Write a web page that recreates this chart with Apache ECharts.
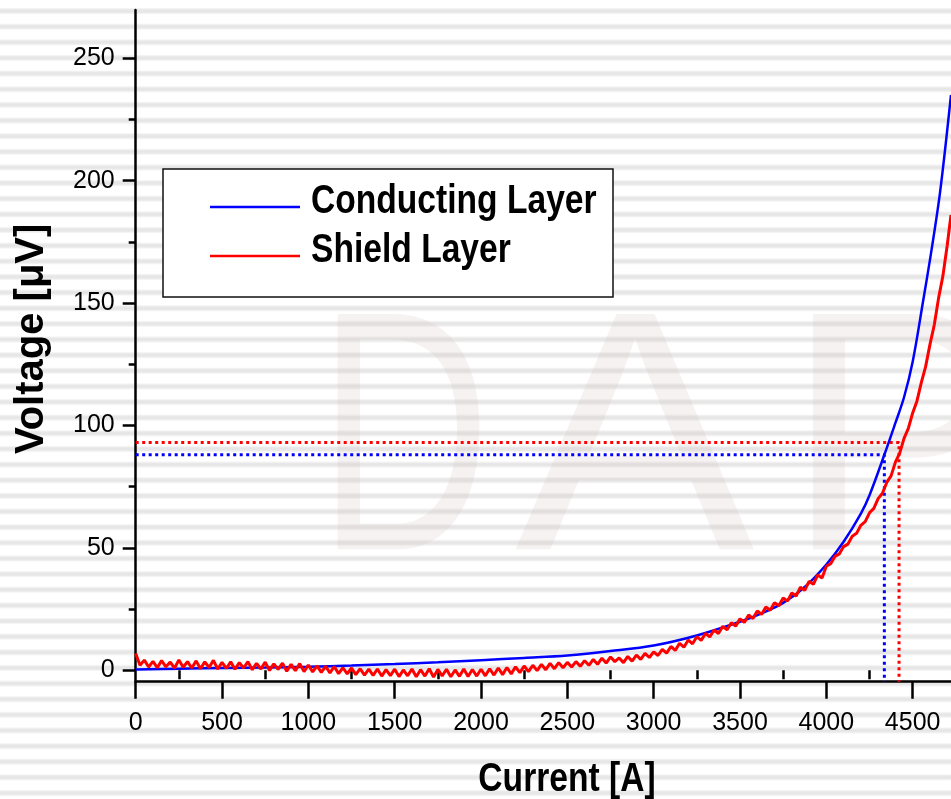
<!DOCTYPE html>
<html><head><meta charset="utf-8">
<script src="https://cdn.jsdelivr.net/npm/echarts@6/dist/echarts.min.js"></script>
<style>
html,body{margin:0;padding:0;width:951px;height:799px;overflow:hidden;}
body{background-color:#fff;background-image:repeating-linear-gradient(to bottom,#fff 0px,#fff 8.5px,#eaeaea 10.5px,#e5e5e5 12px,#eaeaea 13.5px,#fff 15.64px);background-position:0 -1px;}
#chart{width:951px;height:799px;}
</style></head><body><div id="chart"></div>
<script>
const xTicks = [0, 500, 1000, 1500, 2000, 2500, 3000, 3500, 4000, 4500];
const xMinorTicks = [250, 750, 1250, 1750, 2250, 2750, 3250, 3750, 4250];
const yTicks = [0, 50, 100, 150, 200, 250];
const yMinorTicks = [25, 75, 125, 175, 225];
const xRange = [0, 4722];
const yRange = [-4.7, 269.7];

const seriesNames = ['Conducting Layer', 'Shield Layer'];
const xTitle = 'Current [A]';
const yTitle = 'Voltage [\u03bcV]';
const watermark = ['D', 'A', 'P'];

const blueX = [0,250,500,750,1000,1250,1500,1750,2000,2250,2500,2750,3000,3250,3500,3625,3750,3875,4000,4100,4200,4250,4336,4400,4450,4500,4561,4610,4660,4722];
const blueY = [0.3,0.6,0.9,1.1,1.4,1.9,2.5,3.2,4.1,5.0,6.0,7.8,10.1,14.2,19.8,23.2,27.5,34.0,43.2,52.5,64,71.5,88,101,111.5,126,151,172,196,235];

const redX = [0,10,25,50,75,100,125,150,175,200,225,250,275,300,325,350,375,400,425,450,475,
 500,525,550,575,600,625,650,675,700,725,750,775,800,825,850,875,900,925,950,975,
 1000,1025,1050,1075,1100,1125,1150,1175,1200,1225,1250,1275,1300,1325,1350,1375,1400,1425,1450,1475,
 1500,1525,1550,1575,1600,1625,1650,1675,1700,1725,1750,1775,1800,1825,1850,1875,1900,1925,1950,1975,
 2000,2025,2050,2075,2100,2125,2150,2175,2200,2225,2250,2275,2300,2325,2350,2375,2400,2425,2450,2475,
 2500,2525,2550,2575,2600,2625,2650,2675,2700,2725,2750,2775,2800,2825,2850,2875,2900,2925,2950,2975,
 3000,3025,3050,3075,3100,3125,3150,3175,3200,3225,3250,3275,3300,3325,3350,3375,3400,3425,3450,3475,
 3500,3525,3550,3575,3600,3625,3650,3675,3700,3725,3750,3775,3800,3825,3850,3875,3900,3925,3950,3975,
 4000,4025,4050,4075,4100,4125,4150,4175,4200,4225,4250,4275,4300,4325,4350,4375,4400,4425,4450,4475,
 4500,4525,4550,4575,4600,4625,4650,4675,4700,4722];
const redY = [6.8,4.9,2.0,4.1,1.3,3.6,1.0,3.9,1.4,3.3,0.8,4.2,1.2,3.5,0.9,3.8,0.6,3.4,1.1,4.0,0.5,
 3.2,0.7,3.4,0.4,3.1,0.9,3.5,0.2,2.8,0.5,3.3,-0.1,2.6,0.3,2.9,-0.4,2.4,-0.2,2.7,-0.6,
 2.1,-0.7,1.8,-0.9,1.6,-1.1,1.5,-1.4,1.0,-1.5,0.9,-1.8,0.6,-2.0,0.4,-2.1,0.5,-2.4,0.2,-2.2,
 0.4,-2.6,0.1,-2.3,0.5,-2.7,0.2,-2.4,0.6,-2.8,0.3,-2.3,0.4,-2.7,0.1,-2.5,0.5,-2.6,0.3,-2.4,
 0.4,-2.3,0.6,-2.0,0.9,-1.8,1.1,-1.5,1.4,-1.0,1.7,-0.6,2.0,-0.2,2.4,0.2,2.8,0.6,3.1,1.0,
 3.2,1.3,3.5,1.6,3.9,2.0,4.4,2.4,4.9,2.9,5.4,3.5,5.0,3.1,5.6,3.7,6.2,4.4,6.9,5.2,
 7.5,6.0,8.5,7.0,9.7,8.1,11.0,9.4,12.3,10.8,13.7,12.2,15.0,13.6,16.4,15.0,17.9,16.5,19.4,18.0,
 21.0,19.5,22.6,21.1,24.2,22.8,25.8,24.5,27.6,26.3,29.5,28.2,31.6,30.3,33.9,32.6,36.3,35.1,38.9,37.7,
 42.5,43.5,46.5,47.5,50.5,51.5,54.7,55.9,59.2,60.7,64.3,66.1,70.1,72.3,76.7,79.4,85.0,88.7,94.7,98.8,
 105.1,110.0,117.5,124.0,133.0,141.0,152.0,161.0,173.5,186.0];

const blueMark = [4336, 88];
const redMark = [4421, 93];

const zip = (xs, ys) => xs.map((x, i) => [x, ys[i]]);
const guide = (m) => [[xRange[0], m[1]], [m[0], m[1]], [m[0], yRange[0]]];

const REG = "'Liberation Sans',Arial,sans-serif";
const BOLD40 = 'bold 40px ' + REG;
const fmt = (v) => String(v);

const chart = echarts.init(document.getElementById('chart'), null, {renderer: 'canvas'});
const axisLineStyle = {color: '#000', width: 2.5};
const wmStyle = (t) => ({text: t, font: '342px ' + REG, fill: 'rgba(215,190,190,0.2)', textVerticalAlign: 'middle'});

chart.setOption({
  backgroundColor: 'transparent',
  animation: false,
  grid: {left: 135.7, right: 0, top: 10, bottom: 117.3, containLabel: false, outerBoundsMode: 'none'},
  xAxis: [{
    type: 'value', min: xRange[0], max: xRange[1], position: 'bottom',
    axisLine: {show: true, onZero: false, lineStyle: axisLineStyle},
    axisTick: {show: true, customValues: xTicks, length: 17, lineStyle: {color: '#000', width: 2.5}},
    axisLabel: {customValues: xTicks, formatter: fmt, fontSize: 25, color: '#000', margin: 29, fontFamily: REG},
    splitLine: {show: false}
  }, {
    type: 'value', min: xRange[0], max: xRange[1], position: 'bottom',
    axisLine: {show: false},
    axisTick: {show: true, customValues: xMinorTicks, length: 9, lineStyle: {color: '#000', width: 2.5}},
    axisLabel: {show: false}, splitLine: {show: false}
  }],
  yAxis: [{
    type: 'value', min: yRange[0], max: yRange[1], position: 'left',
    axisLine: {show: true, onZero: false, lineStyle: axisLineStyle},
    axisTick: {show: true, customValues: yTicks, length: 13, lineStyle: {color: '#000', width: 2.5}},
    axisLabel: {customValues: yTicks, formatter: fmt, fontSize: 25, color: '#000', margin: 21, fontFamily: REG},
    splitLine: {show: false},
    name: yTitle, nameLocation: 'middle', nameRotate: 90, nameGap: 84,
    nameTextStyle: {fontFamily: REG, fontWeight: 'bold', fontSize: 40, color: '#000', padding: [0, 0, 0, 14]}
  }, {
    type: 'value', min: yRange[0], max: yRange[1], position: 'left',
    axisLine: {show: false},
    axisTick: {show: true, customValues: yMinorTicks, length: 7, lineStyle: {color: '#000', width: 2.5}},
    axisLabel: {show: false}, splitLine: {show: false}
  }],
  graphic: [
    {type: 'text', z: -10, silent: true, x: 318, y: 455, scaleX: 0.7, style: wmStyle(watermark[0])},
    {type: 'text', z: -10, silent: true, x: 515, y: 455, scaleX: 1.05, style: wmStyle(watermark[1])},
    {type: 'text', z: -10, silent: true, x: 785, y: 455, scaleX: 1.0, style: wmStyle(watermark[2])},
    {type: 'rect', z: 1, silent: true, shape: {x: 163, y: 169, width: 450, height: 128},
     style: {fill: '#fff', stroke: '#111', lineWidth: 1.5}},
    {type: 'line', z: 2, silent: true, shape: {x1: 210, y1: 207, x2: 300, y2: 207},
     style: {stroke: '#0000ff', lineWidth: 2.5}},
    {type: 'line', z: 2, silent: true, shape: {x1: 210, y1: 256, x2: 300, y2: 256},
     style: {stroke: '#ff0000', lineWidth: 2.5}},
    {type: 'text', z: 2, silent: true, x: 311, y: 202, scaleX: 0.84,
     style: {text: seriesNames[0], font: BOLD40, fill: '#000', textVerticalAlign: 'middle'}},
    {type: 'text', z: 2, silent: true, x: 311, y: 251, scaleX: 0.84,
     style: {text: seriesNames[1], font: BOLD40, fill: '#000', textVerticalAlign: 'middle'}},
    {type: 'text', z: 2, silent: true, x: 567, y: 780, scaleX: 0.84,
     style: {text: xTitle, font: BOLD40, fill: '#000', textAlign: 'center', textVerticalAlign: 'middle'}}
  ],
  series: [
    {type: 'line', data: guide(blueMark), showSymbol: false, silent: true, z: 2,
     lineStyle: {color: '#0000ff', width: 3, type: [3, 3.5]}},
    {type: 'line', data: guide(redMark), showSymbol: false, silent: true, z: 2,
     lineStyle: {color: '#ff0000', width: 3, type: [3, 3.5]}},
    {name: seriesNames[0], type: 'line', data: zip(blueX, blueY), showSymbol: false, z: 3,
     smooth: 0.35,
     itemStyle: {color: '#0000ff'}, lineStyle: {color: '#0000ff', width: 2.5}},
    {name: seriesNames[1], type: 'line', data: zip(redX, redY), showSymbol: false, z: 4,
     itemStyle: {color: '#ff0000'}, lineStyle: {color: '#ff0000', width: 3}}
  ]
});
</script></body></html>
